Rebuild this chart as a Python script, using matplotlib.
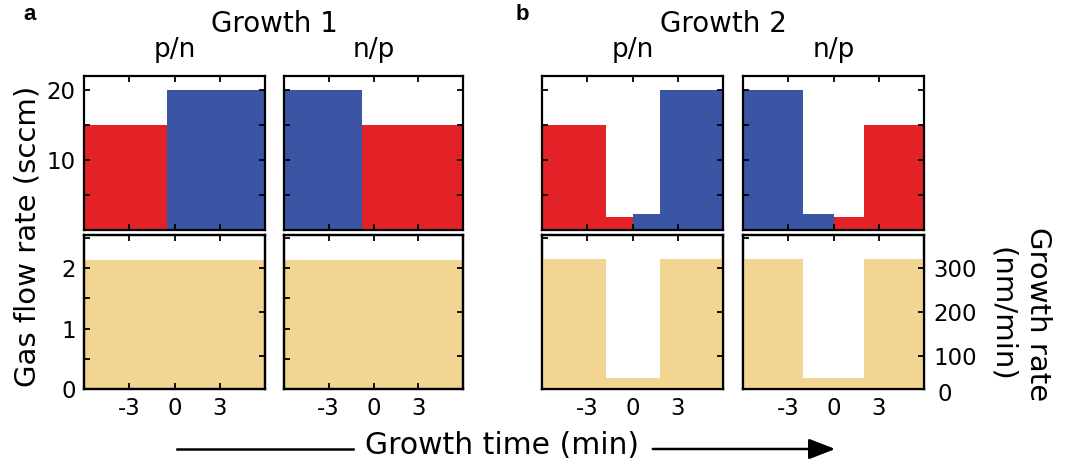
import numpy as np
import matplotlib
matplotlib.use("Agg")
import matplotlib.pyplot as plt
from matplotlib.lines import Line2D
from matplotlib.patches import FancyArrowPatch
import matplotlib.transforms as mtransforms

# ---- data ----
RED, BLUE, TAN = "#e32228", "#3a55a4", "#f2d592"

# top row: gas flow (sccm) as step segments: (edges, values, colour)
top_panels = [
    [([-6, -0.5], [15], RED), ([-0.5, 6], [20], BLUE)],                      # growth 1 p/n
    [([-6, -0.75], [20], BLUE), ([-0.75, 6], [15], RED)],                    # growth 1 n/p
    [([-6, -1.75, 0], [15, 1.8], RED), ([0, 1.8, 6], [2.3, 20], BLUE)],      # growth 2 p/n
    [([-6, -2, 0], [20, 2.3], BLUE), ([0, 2, 6], [1.8, 15], RED)],           # growth 2 n/p
]

# bottom row: growth 1 in sccm (left axis), growth 2 as growth rate nm/min (right axis)
g1_edges = [-6, 6]
g1_flow = [2.13]
g2_pn_edges = [-6, -1.75, 1.8, 6]
g2_np_edges = [-6, -2, 2, 6]
g2_rate = [320, 50, 320]

col_titles = ["p/n", "n/p", "p/n", "n/p"]
x_ticks = [-3, 0, 3]

# ---- figure ----
fig = plt.figure(figsize=(10.66, 4.65), dpi=100)
W, H = 1066, 465
lefts = [84, 284, 542, 743]
rights = [265, 463, 723, 924]

def box(x0, x1, ytop, ybot):
    return [x0 / W, 1 - ybot / H, (x1 - x0) / W, (ybot - ytop) / H]

def style(ax):
    for s in ax.spines.values():
        s.set_linewidth(1.6)
    ax.tick_params(direction="in", length=4, width=1.3, labelsize=16.5,
                   top=True, pad=6)

for i in range(4):
    # top row
    ax = fig.add_axes(box(lefts[i], rights[i], 76, 230))
    for edges, vals, c in top_panels[i]:
        ax.stairs(vals, edges, fill=True, color=c, linewidth=0)
    ax.set_xlim(-6, 6)
    ax.set_ylim(0, 22)
    ax.set_xticks(x_ticks)
    ax.set_xticklabels([])
    ax.set_yticks([5, 10, 15, 20])
    ax.set_yticklabels(["", "10", "", "20"] if i == 0 else [])
    style(ax)
    ax.tick_params(axis="y", right=True)
    ax.set_title(col_titles[i], fontsize=19, pad=14)

    # bottom row
    axb = fig.add_axes(box(lefts[i], rights[i], 235, 389))
    tw = axb.twinx()
    if i < 2:
        axb.stairs(g1_flow, g1_edges, fill=True, color=TAN, linewidth=0)
    else:
        e = g2_pn_edges if i == 2 else g2_np_edges
        tw.stairs(g2_rate, e, fill=True, color=TAN, linewidth=0)
    axb.set_xlim(-6, 6)
    axb.set_ylim(0, 2.55)
    tw.set_ylim(25, 375)
    axb.set_xticks(x_ticks)
    axb.set_xticklabels([str(t) for t in x_ticks])
    axb.set_yticks([0, 0.5, 1, 1.5, 2, 2.5])
    axb.set_yticklabels(["0", "", "1", "", "2", ""] if i == 0 else [])
    tw.set_yticks([100, 200, 300])
    tw.set_yticklabels(["100", "200", "300"] if i == 3 else [])
    style(axb)
    tw.tick_params(direction="in", length=4, width=1.3, labelsize=16.5, pad=7)
    for s in tw.spines.values():
        s.set_linewidth(1.6)
    if i == 3:
        tr = mtransforms.blended_transform_factory(tw.transAxes, tw.transData)
        tw.annotate("0", xy=(1.0, 12), xycoords=tr, xytext=(10, 0),
                    textcoords="offset points", fontsize=16.5, ha="left",
                    va="center", annotation_clip=False)

# group titles and panel letters
fig.text(274 / W, 1 - 24 / H, "Growth 1", fontsize=20, ha="center", va="center")
fig.text(723 / W, 1 - 24 / H, "Growth 2", fontsize=20, ha="center", va="center")
fig.text(30 / W, 1 - 15 / H, "a", fontsize=16, fontweight="bold",
         family="Liberation Sans", ha="center", va="center")
fig.text(522 / W, 1 - 15 / H, "b", fontsize=16, fontweight="bold",
         family="Liberation Sans", ha="center", va="center")

# axis labels
fig.text(28 / W, 1 - 236 / H, "Gas flow rate (sccm)", fontsize=21,
         rotation=90, ha="center", va="center")
fig.text(1020 / W, 1 - 314 / H, "Growth rate\n(nm/min)", fontsize=21,
         rotation=-90, ha="center", va="center", multialignment="center",
         linespacing=1.4)
fig.text(502 / W, 1 - 445 / H, "Growth time (min)", fontsize=21.5,
         ha="center", va="center")

# time arrow
y_arr = 1 - 449 / H
fig.add_artist(Line2D([177 / W, 353 / W], [y_arr, y_arr], color="black",
                      linewidth=1.8, transform=fig.transFigure))
fig.add_artist(FancyArrowPatch((650 / W, y_arr), (838 / W, y_arr),
                               transform=fig.transFigure, color="black",
                               linewidth=1.8,
                               arrowstyle="-|>,head_length=0.9,head_width=0.35",
                               mutation_scale=18))

fig.savefig("out.png", dpi=100)
